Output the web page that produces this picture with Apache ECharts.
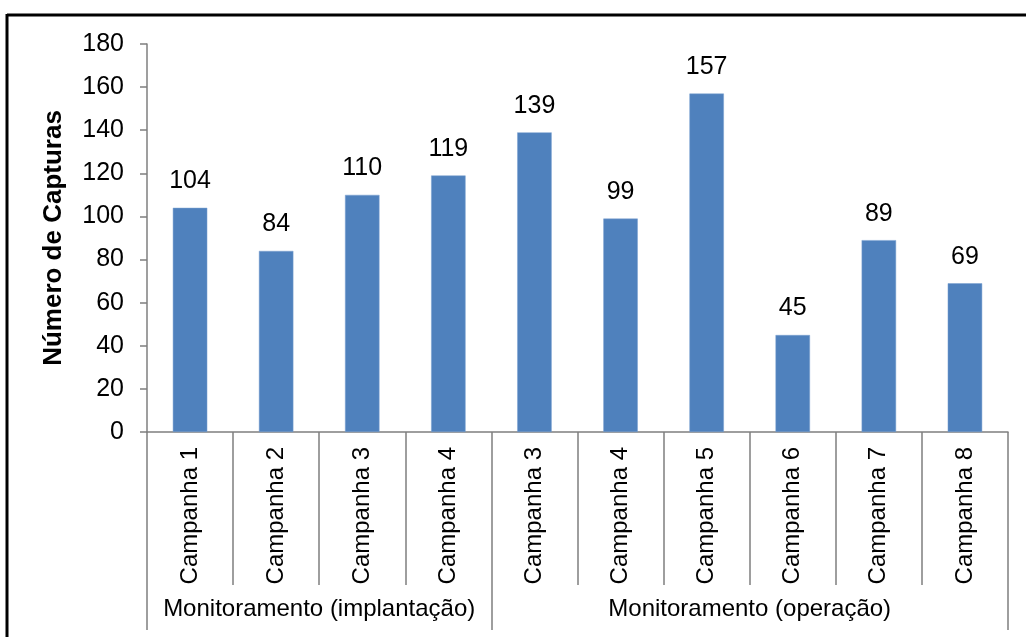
<!DOCTYPE html>
<html>
<head>
<meta charset="utf-8">
<script src="https://cdn.jsdelivr.net/npm/echarts@6/dist/echarts.min.js"></script>
<style>
html,body{margin:0;padding:0;background:#fff;}
#chart{width:1026px;height:637px;}
</style>
</head>
<body>
<div id="chart"></div>
<script>
const categories = ['Campanha 1','Campanha 2','Campanha 3','Campanha 4','Campanha 3','Campanha 4','Campanha 5','Campanha 6','Campanha 7','Campanha 8'];
const values = [104, 84, 110, 119, 139, 99, 157, 45, 89, 69];
const groupNames = ['Monitoramento (implantação)', 'Monitoramento (operação)'];
const groupSizes = [4, 6];
const yTicks = [0, 20, 40, 60, 80, 100, 120, 140, 160, 180];

// group boundaries & centers in category units
const bounds = [0];
groupSizes.forEach(s => bounds.push(bounds[bounds.length - 1] + s));
const centers = groupSizes.map((s, i) => bounds[i] + s / 2);

const FONT = 'Liberation Sans, Arial, sans-serif';
const chart = echarts.init(document.getElementById('chart'));
chart.setOption({
  animation: false,
  backgroundColor: '#fff',
  graphic: [
    { type: 'line', shape: { x1: 7, y1: 15, x2: 1026, y2: 15 }, style: { stroke: '#000', lineWidth: 3 } },
    { type: 'line', shape: { x1: 7, y1: 14, x2: 7, y2: 637 }, style: { stroke: '#000', lineWidth: 3 } }
  ],
  grid: { left: 147, right: 18, top: 44, bottom: 205, containLabel: false },
  xAxis: [
    {
      type: 'category',
      data: categories,
      axisLine: { lineStyle: { color: '#7f7f7f', width: 1.5 } },
      axisTick: { show: true, interval: 0, length: 153, lineStyle: { color: '#7f7f7f', width: 1.5 } },
      axisLabel: { interval: 0, rotate: 90, margin: 15, fontSize: 24, color: '#000', fontFamily: FONT }
    },
    {
      type: 'value',
      position: 'bottom',
      min: 0,
      max: bounds[bounds.length - 1],
      splitLine: { show: false },
      axisLine: { show: false },
      axisTick: { show: true, customValues: bounds, length: 198, lineStyle: { color: '#7f7f7f', width: 1.5 } },
      axisLabel: {
        customValues: centers, margin: 165, fontSize: 24, color: '#000', fontFamily: FONT,
        formatter: function (v) { const i = centers.indexOf(v); return i >= 0 ? groupNames[i] : ''; }
      }
    }
  ],
  yAxis: {
    type: 'value',
    min: yTicks[0],
    max: yTicks[yTicks.length - 1],
    interval: yTicks[1] - yTicks[0],
    name: 'Número de Capturas',
    nameLocation: 'middle',
    nameGap: 80,
    nameTextStyle: { fontSize: 26, fontWeight: 'bold', color: '#000', fontFamily: FONT },
    splitLine: { show: false },
    axisLine: { show: true, lineStyle: { color: '#7f7f7f', width: 1.5 } },
    axisTick: { show: true, length: 7, lineStyle: { color: '#7f7f7f', width: 1.5 } },
    axisLabel: { margin: 23, fontSize: 25, color: '#000', fontFamily: FONT }
  },
  series: [{
    type: 'bar',
    data: values,
    barWidth: '40%',
    itemStyle: { color: '#4f81bd', borderColor: '#7aa0d0', borderWidth: 0.5 },
    label: { show: true, position: 'top', distance: 14, fontSize: 25, color: '#000', fontFamily: FONT }
  }]
});
</script>
</body>
</html>
